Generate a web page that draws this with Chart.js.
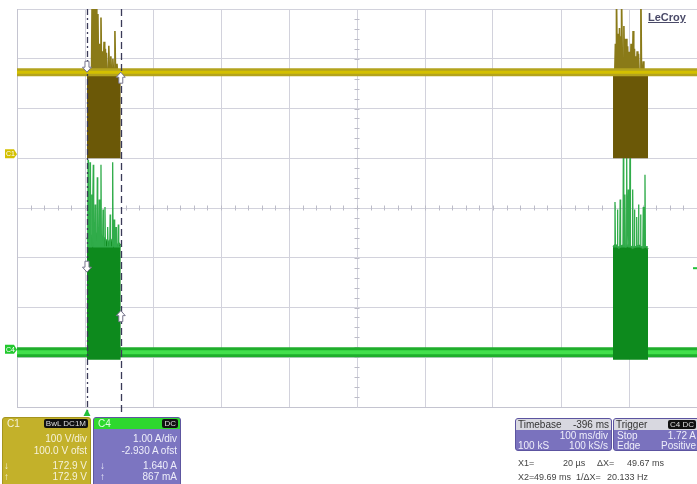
<!DOCTYPE html>
<html>
<head>
<meta charset="utf-8">
<script src="https://cdn.jsdelivr.net/npm/chart.js@4.4.0/dist/chart.umd.min.js"></script>
<style>
body{margin:0;background:#fff;font-family:"Liberation Sans",Arial,sans-serif;}
#wrap{position:relative;width:697px;height:484px;overflow:hidden;}
#scope{position:absolute;left:0;top:0;}
.logo{position:absolute;left:648px;top:11px;font-size:11px;font-weight:bold;color:#4a4a68;text-decoration:underline;}
.pn{position:absolute;border-radius:3px;overflow:hidden;font-size:10px;line-height:11px;}
.pn div{position:absolute;white-space:nowrap;}
.hd{left:0;right:0;top:0;height:11px;}
.r{right:3px;}
.badge{background:#111;color:#ddd;font-size:8px;line-height:9px;padding:0 2px;border-radius:2px;top:1px;}
#c1p{left:2px;top:417px;width:87px;height:72px;background:#c3b12a;border:1px solid #a4941e;color:#f6f2da;}
#c4p{left:93px;top:417px;width:86px;height:72px;background:#7c75c1;border:1px solid #5d56a0;color:#eeeefa;}
#c4p .hd{background:#2ed82e;}
#tbp{left:515px;top:418px;width:95px;height:31px;background:#7a72be;border:1px solid #5c54a0;color:#eeeefa;}
#trp{left:613px;top:418px;width:90px;height:31px;background:#7a72be;border:1px solid #5c54a0;color:#eeeefa;}
#tbp .hd,#trp .hd{background:#d8d8e0;color:#333;}
.cur{position:absolute;font-size:9px;line-height:11px;color:#444;white-space:nowrap;}
</style>
</head>
<body>
<div id="wrap">
<canvas id="scope" width="697" height="484"></canvas>
<div class="logo">LeCroy</div>

<div class="pn" id="c1p">
  <div class="hd"><div style="left:4px">C1</div><div class="badge" style="right:2px">BwL DC1M</div></div>
  <div class="r" style="top:15px">100 V/div</div>
  <div class="r" style="top:27px">100.0 V ofst</div>
  <div style="left:1px;top:42px">↓</div><div class="r" style="top:42px">172.9 V</div>
  <div style="left:1px;top:53px">↑</div><div class="r" style="top:53px">172.9 V</div>
</div>

<div class="pn" id="c4p">
  <div class="hd"><div style="left:4px;color:#dfffdf">C4</div><div class="badge" style="right:2px">DC</div></div>
  <div class="r" style="top:15px">1.00 A/div</div>
  <div class="r" style="top:27px">-2.930 A ofst</div>
  <div style="left:6px;top:42px">↓</div><div class="r" style="top:42px">1.640 A</div>
  <div style="left:6px;top:53px">↑</div><div class="r" style="top:53px">867 mA</div>
</div>

<div class="pn" id="tbp">
  <div class="hd"><div style="left:2px">Timebase</div><div style="right:2px">-396 ms</div></div>
  <div class="r" style="top:11px">100 ms/div</div>
  <div style="left:2px;top:21px">100 kS</div><div class="r" style="top:21px">100 kS/s</div>
</div>

<div class="pn" id="trp">
  <div class="hd"><div style="left:2px">Trigger</div><div class="badge" style="right:8px">C4 DC</div></div>
  <div style="left:3px;top:11px">Stop</div><div style="right:8px;top:11px">1.72 A</div>
  <div style="left:3px;top:21px">Edge</div><div style="right:8px;top:21px">Positive</div>
</div>

<div class="cur" style="left:518px;top:458px">X1=</div>
<div class="cur" style="left:563px;top:458px">20 µs</div>
<div class="cur" style="left:597px;top:458px">ΔX=</div>
<div class="cur" style="left:627px;top:458px">49.67 ms</div>
<div class="cur" style="left:518px;top:472px">X2=</div>
<div class="cur" style="left:534px;top:472px">49.69 ms</div>
<div class="cur" style="left:576px;top:472px">1/ΔX=</div>
<div class="cur" style="left:607px;top:472px">20.133 Hz</div>
</div>

<script>
// time in ms from the left edge of the screen (100 ms/div, 10 div)
const c1Level = 172.9;      // V, idle level of C1
const c4Level = 0.03;       // A, idle level of C4
const burstStarts = [102.9, 876.5];
const burstEnds = [152.6, 928];
const cursorTimes = [102.9, 152.6];
const cursorC1 = [172.9, 172.9];
const cursorC4 = [1.640, 0.867];
const triggerLevel = 1.72;

// C1 spikes above the idle level (V)
const c1Spike1Times = [110.5, 112, 114.5, 116.5, 119, 121, 123.5, 126, 128, 130, 132, 135, 138, 141, 144, 147];
const c1Spike1Volts = [330, 310, 330, 300, 290, 230, 283, 215, 234, 220, 212, 226, 205, 200, 256, 190];
const c1Spike2Times = [880, 882, 884, 886, 888, 889.5, 892.5, 894, 896, 898, 900, 903, 906, 908, 910, 912, 914, 917.5, 921];
const c1Spike2Volts = [230, 330, 250, 262, 245, 330, 266, 240, 240, 225, 214, 230, 256, 220, 205, 215, 210, 330, 195];

// C4 dense envelope during the bursts (A)
const c4Dense1Times = [102.9, 106, 110, 114, 118, 122, 126, 130, 134, 138, 142, 146, 150, 152.6];
const c4Dense1Amps = [2.3, 2.42, 2.36, 2.45, 2.4, 2.35, 2.36, 2.3, 2.25, 2.3, 2.22, 2.18, 2.22, 2.18];
const c4Dense2Times = [876.5, 880, 885, 890, 895, 900, 905, 910, 915, 920, 925, 928];
const c4Dense2Amps = [2.15, 2.2, 2.12, 2.18, 2.15, 2.2, 2.12, 2.15, 2.18, 2.12, 2.15, 2.1];

// C4 spikes (A)
const c4Spike1Times = [104.5, 107.4, 110, 112.2, 115, 118.1, 121, 123.5, 126.5, 129.4, 133.3, 137, 140.7, 143, 145.6, 149];
const c4Spike1Amps = [3.9, 3.85, 3.2, 3.8, 3.0, 3.55, 3.1, 3.8, 2.9, 2.95, 2.55, 2.8, 3.85, 2.7, 2.55, 2.6];
const c4Spike2Times = [879.4, 883, 887, 891.7, 894, 896.6, 899, 901.5, 905.4, 908, 911.3, 914, 917, 921, 923.5];
const c4Spike2Amps = [3.05, 2.9, 3.1, 4.0, 3.2, 4.0, 3.3, 4.0, 3.3, 2.9, 2.75, 3.0, 2.8, 2.95, 3.6];

function spikePts(times, peaks, base, start, end, hw) {
  var pts = [{x: start, y: base}];
  times.forEach(function(t, i) {
    pts.push({x: t - hw, y: base}, {x: t, y: peaks[i]}, {x: t + hw, y: base});
  });
  pts.push({x: end, y: base});
  return pts;
}
function zipPts(times, vals) {
  return times.map(function(t, i) { return {x: t, y: vals[i]}; });
}
function flat(v) { return [{x: 0, y: v}, {x: 1000, y: v}]; }

var base = {pointRadius: 0, tension: 0, fill: false};
var datasets = [];
function add(o) { datasets.push(Object.assign({}, base, o)); }

// C1 (yellow)
add({data: flat(c1Level), yAxisID: 'yV', borderColor: '#d4c000', borderWidth: 3, order: 1});
add({data: flat(c1Level), yAxisID: 'yV', borderColor: '#b3a31e', borderWidth: 8, order: 2});
[0, 1].forEach(function(b) {
  var st = [c1Spike1Times, c1Spike2Times][b], sv = [c1Spike1Volts, c1Spike2Volts][b];
  add({data: spikePts(st, sv, c1Level, burstStarts[b], burstEnds[b], 0.9), yAxisID: 'yV',
       borderColor: '#8a7a18', borderWidth: 1.6, fill: {value: c1Level},
       backgroundColor: 'rgba(140,125,30,0.6)', order: 3});
  add({data: [{x: burstStarts[b], y: c1Level}, {x: burstEnds[b], y: c1Level}], yAxisID: 'yV',
       borderWidth: 0, fill: {value: 0}, backgroundColor: '#6b5807', order: 4});
});

// C4 (green)
[0, 1].forEach(function(b) {
  var st = [c4Spike1Times, c4Spike2Times][b], sa = [c4Spike1Amps, c4Spike2Amps][b];
  var dt = [c4Dense1Times, c4Dense2Times][b], da = [c4Dense1Amps, c4Dense2Amps][b];
  add({data: spikePts(st, sa, 2.15, burstStarts[b], burstEnds[b], 0.6), yAxisID: 'yA',
       borderColor: '#30ac4a', borderWidth: 1.3, fill: {value: 2.15},
       backgroundColor: 'rgba(90,200,120,0.4)', order: 5});
  add({data: zipPts(dt, da), yAxisID: 'yA', borderColor: '#2f9f3f', borderWidth: 1.5,
       fill: {value: -0.12}, backgroundColor: '#0d8a1d', order: 6});
});
add({data: flat(c4Level), yAxisID: 'yA', borderColor: '#42e04c', borderWidth: 4, order: 7});
add({data: flat(c4Level), yAxisID: 'yA', borderColor: '#1fae2c', borderWidth: 10, order: 8});

function drawArrow(ctx, x, tip, dir) {
  var h = 5, w = 4.5, stem = 6, sw = 2;
  ctx.beginPath();
  ctx.moveTo(x, tip);
  ctx.lineTo(x - w, tip - dir * h);
  ctx.lineTo(x - sw, tip - dir * h);
  ctx.lineTo(x - sw, tip - dir * (h + stem));
  ctx.lineTo(x + sw, tip - dir * (h + stem));
  ctx.lineTo(x + sw, tip - dir * h);
  ctx.lineTo(x + w, tip - dir * h);
  ctx.closePath();
  ctx.fillStyle = '#fff';
  ctx.fill();
  ctx.strokeStyle = '#76748c';
  ctx.lineWidth = 1;
  ctx.stroke();
}

function tag(ctx, y, color, text) {
  ctx.fillStyle = color;
  ctx.beginPath();
  ctx.moveTo(5, y - 5); ctx.lineTo(14, y - 5); ctx.lineTo(17, y); ctx.lineTo(14, y + 4); ctx.lineTo(5, y + 4);
  ctx.closePath();
  ctx.fill();
  ctx.fillStyle = '#fff';
  ctx.font = '7px "Liberation Sans"';
  ctx.textBaseline = 'middle';
  ctx.fillText(text, 6, y);
}

var scopeDecor = {
  id: 'scopeDecor',
  beforeDatasetsDraw: function(chart) {
    var ctx = chart.ctx, a = chart.chartArea;
    var cx = (a.left + a.right) / 2, cy = (a.top + a.bottom) / 2;
    ctx.save();
    ctx.strokeStyle = '#bcbcc8';
    ctx.lineWidth = 1;
    ctx.beginPath();
    for (var i = 1; i < 40; i++) {
      var y = Math.round(a.top + (a.bottom - a.top) * i / 40) + 0.5;
      ctx.moveTo(cx - 2.5, y); ctx.lineTo(cx + 2.5, y);
    }
    for (var j = 1; j < 50; j++) {
      var x = Math.round(a.left + (a.right - a.left) * j / 50) + 0.5;
      ctx.moveTo(x, cy - 2.5); ctx.lineTo(x, cy + 2.5);
    }
    ctx.stroke();
    ctx.restore();
  },
  afterDatasetsDraw: function(chart) {
    var ctx = chart.ctx, a = chart.chartArea;
    var sx = chart.scales.x, sV = chart.scales.yV, sA = chart.scales.yA;
    ctx.save();
    // cursors
    ctx.strokeStyle = '#3a3a58';
    ctx.lineWidth = 1.3;
    cursorTimes.forEach(function(t, i) {
      var x = Math.round(sx.getPixelForValue(t)) + 0.5;
      ctx.setLineDash(i === 0 ? [6, 3, 2, 3] : [7, 4]);
      ctx.beginPath();
      ctx.moveTo(x, a.top);
      ctx.lineTo(x, a.bottom + 5);
      ctx.stroke();
    });
    ctx.setLineDash([]);
    cursorTimes.forEach(function(t, i) {
      var x = sx.getPixelForValue(t);
      var dir = i === 0 ? 1 : -1;
      drawArrow(ctx, x, sV.getPixelForValue(cursorC1[i]), dir);
      drawArrow(ctx, x, sA.getPixelForValue(cursorC4[i]), dir);
    });
    // trigger position and level
    var tx = sx.getPixelForValue(cursorTimes[0]);
    ctx.fillStyle = '#22c03a';
    ctx.beginPath();
    ctx.moveTo(tx, a.bottom + 2); ctx.lineTo(tx - 3.5, a.bottom + 9); ctx.lineTo(tx + 3.5, a.bottom + 9);
    ctx.closePath();
    ctx.fill();
    var ty = sA.getPixelForValue(triggerLevel);
    ctx.fillRect(a.right - 4, ty - 1, 4, 2);
    // channel ground tags
    tag(ctx, sV.getPixelForValue(0) - 4, '#d4c000', 'C1');
    tag(ctx, sA.getPixelForValue(0) - 4, '#22c82e', 'C4');
    ctx.restore();
  }
};

new Chart(document.getElementById('scope'), {
  type: 'line',
  data: {datasets: datasets},
  options: {
    responsive: false,
    animation: false,
    events: [],
    layout: {padding: {left: 17, top: 9, right: 0, bottom: 77}},
    plugins: {legend: {display: false}, tooltip: {enabled: false}},
    scales: {
      x: {type: 'linear', min: 0, max: 1000,
          ticks: {display: false, stepSize: 100},
          grid: {color: '#d2d2dc', drawTicks: false},
          border: {color: '#c4c4d0'}},
      yV: {type: 'linear', position: 'left', min: -500, max: 300,
           ticks: {display: false, stepSize: 100},
           grid: {color: '#d2d2dc', drawTicks: false},
           border: {color: '#c4c4d0'}},
      yA: {type: 'linear', display: false, min: -1.07, max: 6.93}
    }
  },
  plugins: [scopeDecor]
});
</script>
</body>
</html>
